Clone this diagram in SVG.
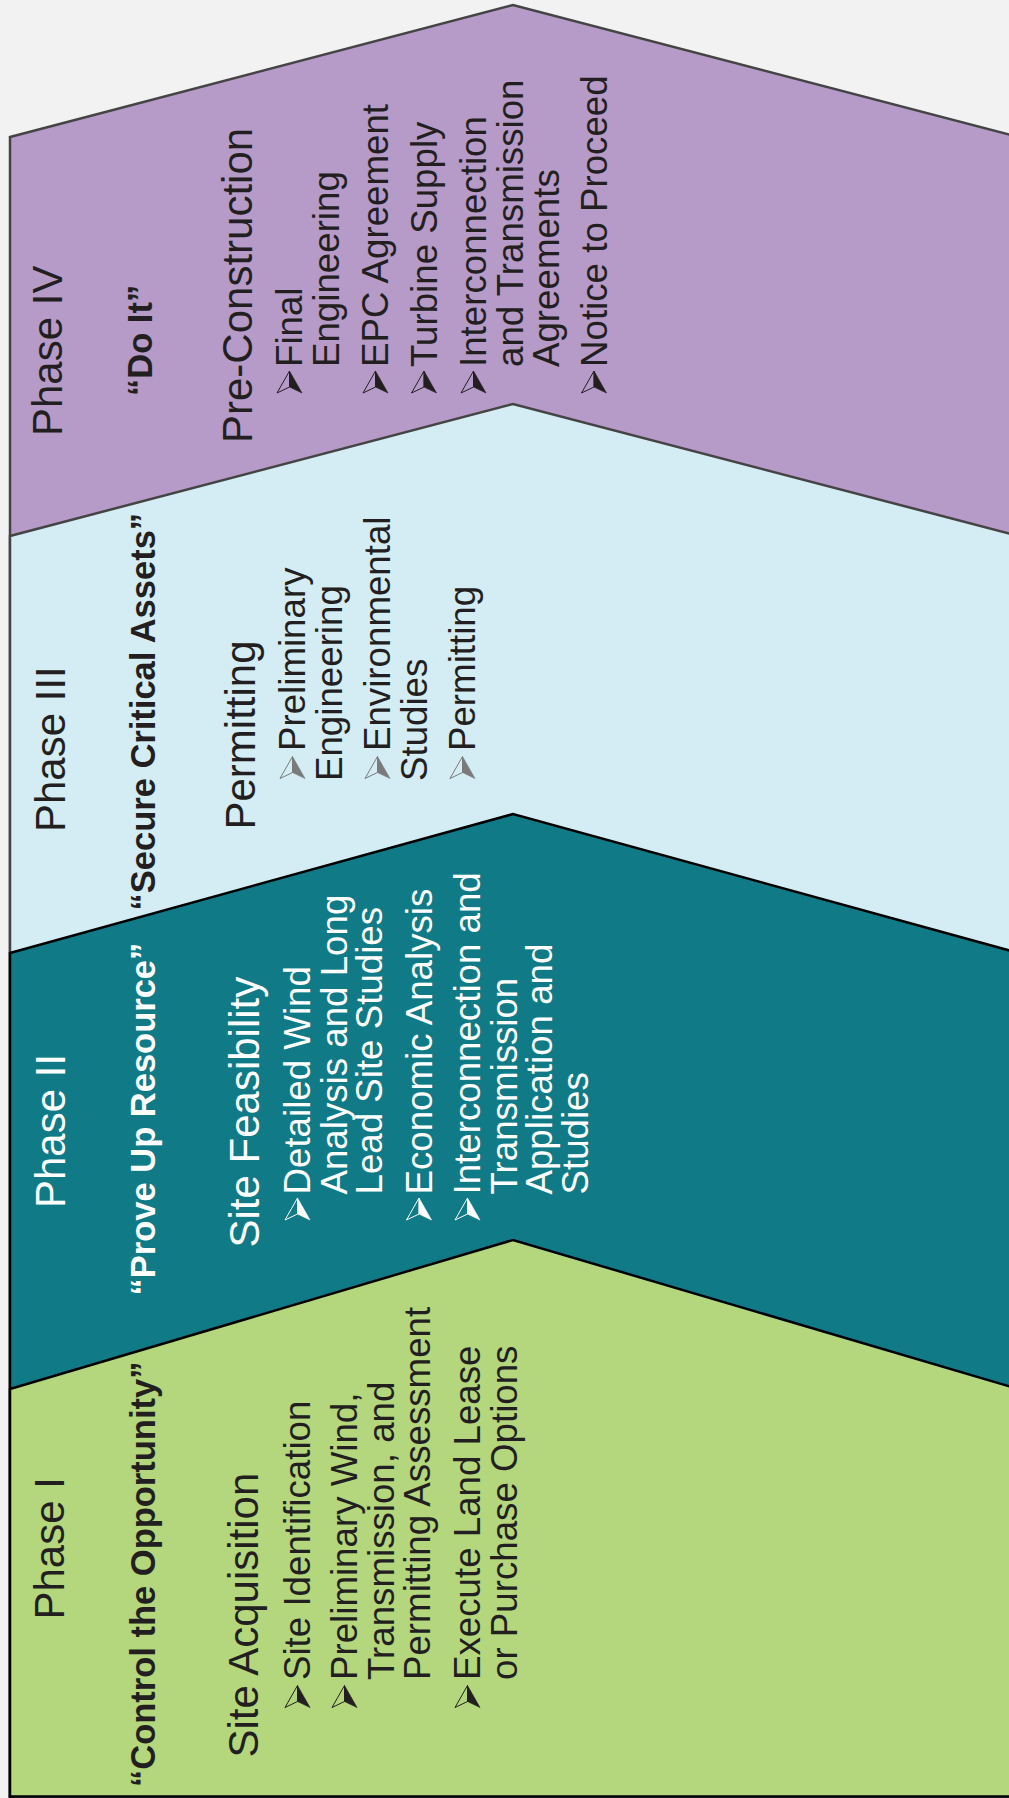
<svg xmlns="http://www.w3.org/2000/svg" xmlns:xlink="http://www.w3.org/1999/xlink" width="1009" height="1798" viewBox="0 0 1009 1798">
<style>
text{font-family:"Liberation Sans",Arial,Helvetica,sans-serif;fill:#231f20}
.h{font-size:42px}
.b{font-size:34.5px;font-weight:bold}
.t{font-size:36.7px}
.w{fill:#ffffff}
.shape-g{stroke:#444444;stroke-width:2.5;stroke-linejoin:miter}
.shape-k{stroke:#000000;stroke-width:2.5;stroke-linejoin:miter}
.bk{color:#231f20}
.gy{color:#7a7a7a}
.wh{color:#ffffff}
</style>
<defs>
<g id="bul">
<polygon points="22,-12.5 0,-25 6,-12.5" fill="none" stroke="currentColor" stroke-width="1"/>
<polygon points="22,-12.5 0,0 6,-12.5" fill="currentColor" stroke="currentColor" stroke-width="0.6"/>
</g>
</defs>
<rect x="0" y="0" width="1009" height="1798" fill="#f2f2f2"/>

<g id="phase-4">
<polygon class="shape-g" points="10,137 513,5 1015,136 1015,1800 10,1800" fill="#b69ac8"/>
<g transform="rotate(-90)">
<text class="h" x="-436" y="62">Phase IV</text>
<text class="b" x="-396" y="152">“Do It”</text>
<text class="h" x="-443" y="252">Pre-Construction</text>
<text class="t" x="-367" y="302">Final</text>
<text class="t" x="-367" y="338.5">Engineering</text>
<text class="t" x="-367" y="388">EPC Agreement</text>
<text class="t" x="-367" y="436.5">Turbine Supply</text>
<text class="t" x="-367" y="486">Interconnection</text>
<text class="t" x="-367" y="522.5">and Transmission</text>
<text class="t" x="-367" y="558.5">Agreements</text>
<text class="t" x="-367" y="606.5">Notice to Proceed</text>
<g class="bk">
<use xlink:href="#bul" href="#bul" x="-393" y="302"/>
<use xlink:href="#bul" href="#bul" x="-393" y="388"/>
<use xlink:href="#bul" href="#bul" x="-393" y="436.5"/>
<use xlink:href="#bul" href="#bul" x="-393" y="486"/>
<use xlink:href="#bul" href="#bul" x="-393" y="606.5"/>
</g>
</g>
</g>

<g id="phase-3">
<polygon class="shape-g" points="10,536 513,404 1015,535 1015,1800 10,1800" fill="#d4ecf3"/>
<g transform="rotate(-90)">
<text class="h" x="-832" y="64.5">Phase III</text>
<text class="b" x="-910.5" y="155">“Secure Critical Assets”</text>
<text class="h" x="-829.5" y="255">Permitting</text>
<text class="t" x="-751" y="305">Preliminary</text>
<text class="t" x="-781" y="341.7">Engineering</text>
<text class="t" x="-751" y="390">Environmental</text>
<text class="t" x="-781" y="426.7">Studies</text>
<text class="t" x="-751" y="475">Permitting</text>
<g class="gy">
<use xlink:href="#bul" href="#bul" x="-778.5" y="305"/>
<use xlink:href="#bul" href="#bul" x="-778.5" y="390"/>
<use xlink:href="#bul" href="#bul" x="-778.5" y="475"/>
</g>
</g>
</g>

<g id="phase-2">
<polygon class="shape-k" points="10,953 513,814 1015,952 1015,1800 10,1800" fill="#107b87"/>
<g transform="rotate(-90)">
<text class="h w" x="-1208" y="64.5">Phase II</text>
<text class="b w" x="-1295.5" y="155">“Prove Up Resource”</text>
<text class="h w" x="-1247.5" y="259">Site Feasibility</text>
<text class="t w" x="-1194.5" y="310">Detailed Wind</text>
<text class="t w" x="-1194.5" y="346.5">Analysis and Long</text>
<text class="t w" x="-1194.5" y="382">Lead Site Studies</text>
<text class="t w" x="-1194.5" y="431.5">Economic Analysis</text>
<text class="t w" x="-1194.5" y="480">Interconnection and</text>
<text class="t w" x="-1194.5" y="516.5">Transmission</text>
<text class="t w" x="-1194.5" y="552">Application and</text>
<text class="t w" x="-1194.5" y="588">Studies</text>
<g class="wh">
<use xlink:href="#bul" href="#bul" x="-1220" y="310"/>
<use xlink:href="#bul" href="#bul" x="-1220" y="431.5"/>
<use xlink:href="#bul" href="#bul" x="-1220" y="480"/>
</g>
</g>
</g>

<g id="phase-1">
<polygon class="shape-k" points="10,1389 513,1240 1015,1388 1015,1796.5 10,1796.5" fill="#b4d67d"/>
<g transform="rotate(-90)">
<text class="h" x="-1619.5" y="63.5">Phase I</text>
<text class="b" x="-1787" y="155">“Control the Opportunity”</text>
<text class="h" x="-1757.5" y="258.3">Site Acquisition</text>
<text class="t" x="-1680" y="310">Site Identification</text>
<text class="t" x="-1680" y="357">Preliminary Wind,</text>
<text class="t" x="-1680" y="393.5">Transmission, and</text>
<text class="t" x="-1680" y="430">Permitting Assessment</text>
<text class="t" x="-1680" y="480">Execute Land Lease</text>
<text class="t" x="-1680" y="516.5">or Purchase Options</text>
<g class="bk">
<use xlink:href="#bul" href="#bul" x="-1707.5" y="310"/>
<use xlink:href="#bul" href="#bul" x="-1707.5" y="357"/>
<use xlink:href="#bul" href="#bul" x="-1707.5" y="480"/>
</g>
</g>
</g>
</svg>
